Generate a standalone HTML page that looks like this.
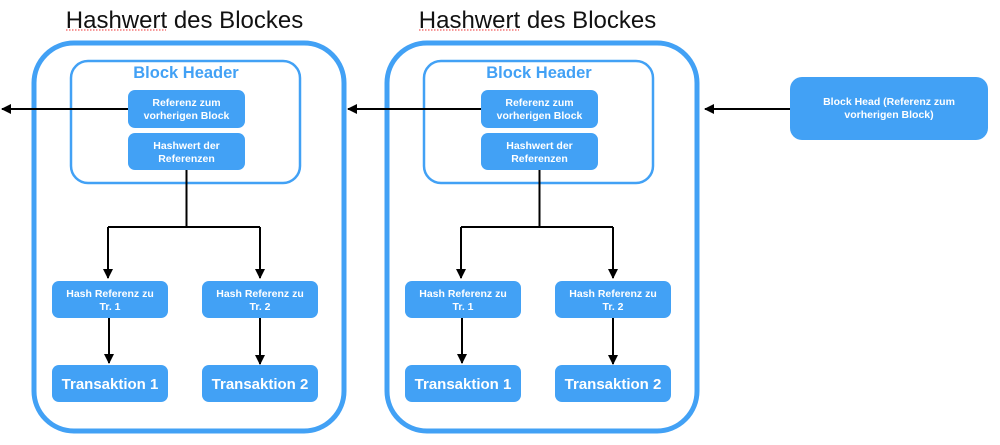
<!DOCTYPE html>
<html><head><meta charset="utf-8"><style>
html,body{margin:0;padding:0;background:#fff;width:1000px;height:445px;overflow:hidden}
svg text{font-family:"Liberation Sans",Arial,sans-serif}
.w{fill:#fff;font-weight:bold;text-anchor:middle}
</style></head><body>
<svg width="1000" height="445" viewBox="0 0 1000 445" xmlns="http://www.w3.org/2000/svg">
<defs>
<marker id="a" markerWidth="10" markerHeight="10" refX="9" refY="5" orient="auto" markerUnits="userSpaceOnUse">
<path d="M0,0 L10,5 L0,10 Z" fill="#000"/></marker>
<g id="blk">
<text x="184.5" y="28" font-size="24" text-anchor="middle" fill="#111">Hashwert des Blockes</text>
<path d="M66,30 H166" stroke="#e33" stroke-width="1" stroke-dasharray="1.5,1.5"/>
<rect x="34" y="43" width="310" height="388" rx="40" fill="none" stroke="#42a1f5" stroke-width="5"/>
<rect x="71" y="61" width="229" height="122" rx="17" fill="none" stroke="#42a1f5" stroke-width="2.5"/>
<text x="186" y="78" font-size="16.5" font-weight="bold" text-anchor="middle" fill="#42a1f5">Block Header</text>
<rect x="128" y="90" width="117" height="38" rx="7" fill="#42a1f5"/>
<text class="w" x="186.5" y="106" font-size="10.5">Referenz zum</text>
<text class="w" x="186.5" y="119" font-size="10.5">vorherigen Block</text>
<rect x="128" y="133" width="117" height="37" rx="7" fill="#42a1f5"/>
<text class="w" x="186.5" y="149" font-size="10.5">Hashwert der</text>
<text class="w" x="186.5" y="162" font-size="10.5">Referenzen</text>
<path d="M186.5,170 V227 M108,227 H260" stroke="#000" stroke-width="2" fill="none"/>
<path d="M108,227 V278" stroke="#000" stroke-width="2" marker-end="url(#a)"/>
<path d="M260,227 V278" stroke="#000" stroke-width="2" marker-end="url(#a)"/>
<rect x="52" y="281" width="116" height="37" rx="7" fill="#42a1f5"/>
<text class="w" x="110" y="297" font-size="10.5">Hash Referenz zu</text>
<text class="w" x="110" y="310" font-size="10.5">Tr. 1</text>
<rect x="202" y="281" width="116" height="37" rx="7" fill="#42a1f5"/>
<text class="w" x="260" y="297" font-size="10.5">Hash Referenz zu</text>
<text class="w" x="260" y="310" font-size="10.5">Tr. 2</text>
<path d="M109,318 V363" stroke="#000" stroke-width="2" marker-end="url(#a)"/>
<path d="M260,318 V364" stroke="#000" stroke-width="2" marker-end="url(#a)"/>
<rect x="52" y="365" width="116" height="37" rx="7" fill="#42a1f5"/>
<text class="w" x="110" y="389" font-size="15">Transaktion 1</text>
<rect x="202" y="365" width="116" height="37" rx="7" fill="#42a1f5"/>
<text class="w" x="260" y="389" font-size="15">Transaktion 2</text>
</g>
</defs>
<use href="#blk"/>
<use href="#blk" x="353"/>
<path d="M128,109 H2" stroke="#000" stroke-width="2" marker-end="url(#a)"/>
<path d="M481,109 H348" stroke="#000" stroke-width="2" marker-end="url(#a)"/>
<path d="M790,109 H705" stroke="#000" stroke-width="2" marker-end="url(#a)"/>
<rect x="790" y="77" width="198" height="63" rx="12" fill="#42a1f5"/>
<text class="w" x="889" y="105" font-size="10.5">Block Head (Referenz zum</text>
<text class="w" x="889" y="118" font-size="10.5">vorherigen Block)</text>
</svg>
</body></html>
